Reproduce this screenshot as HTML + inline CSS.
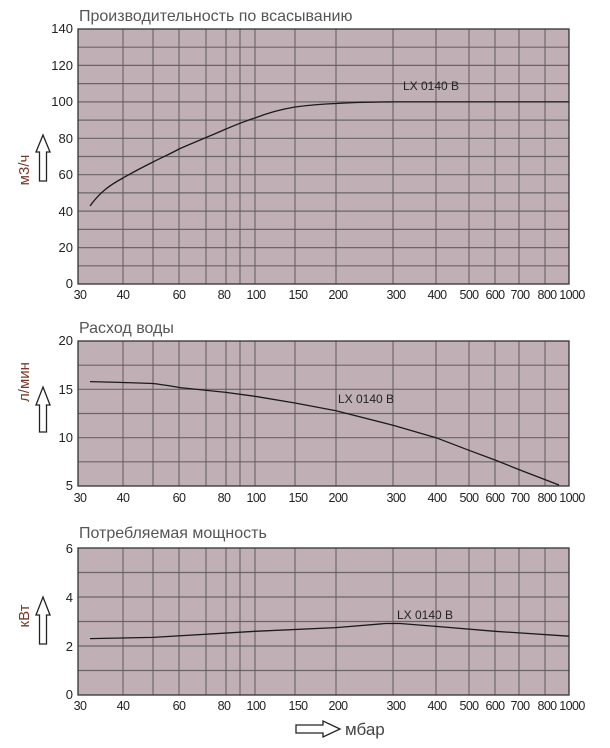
<!DOCTYPE html>
<html><head><meta charset="utf-8"><style>
body{margin:0;background:#fff;}
svg{display:block;font-family:"Liberation Sans",sans-serif;}
</style></head><body>
<svg width="610" height="748" viewBox="0 0 610 748" xmlns="http://www.w3.org/2000/svg">
<defs>
<g id="vgrid" stroke="#5e5a5c" stroke-width="1">
<line x1="123" y1="0" x2="123" y2="1"/><line x1="153" y1="0" x2="153" y2="1"/><line x1="179" y1="0" x2="179" y2="1"/><line x1="206" y1="0" x2="206" y2="1"/><line x1="226" y1="0" x2="226" y2="1"/><line x1="240" y1="0" x2="240" y2="1"/><line x1="255" y1="0" x2="255" y2="1"/><line x1="295" y1="0" x2="295" y2="1"/><line x1="336" y1="0" x2="336" y2="1"/><line x1="393" y1="0" x2="393" y2="1"/><line x1="436" y1="0" x2="436" y2="1"/><line x1="469" y1="0" x2="469" y2="1"/><line x1="495" y1="0" x2="495" y2="1"/><line x1="519" y1="0" x2="519" y2="1"/><line x1="545" y1="0" x2="545" y2="1"/>
</g>
</defs>
<style>
.t{font-size:16px;fill:#555;}
.yl{font-size:13px;fill:#222;text-anchor:end;}
.xl{font-size:12.5px;fill:#222;text-anchor:middle;letter-spacing:-0.6px;}
.lx{font-size:12px;fill:#222;}
.ax{font-size:15px;fill:#7a3a2a;}
.hg{stroke:#6a6568;stroke-width:1.2;}
.cv{fill:none;stroke:#1a1a1a;stroke-width:1.3;}
.arr{fill:#fff;stroke:#222;stroke-width:1.3;}
</style>

<!-- CHART 1 -->
<text x="79" y="21" class="t">Производительность по всасыванию</text>
<rect x="78" y="29" width="491" height="255" fill="#c0b0b6"/>
<g class="hg">
<line x1="78" x2="569" y1="47.2" y2="47.2"/><line x1="78" x2="569" y1="65.4" y2="65.4"/><line x1="78" x2="569" y1="83.6" y2="83.6"/><line x1="78" x2="569" y1="101.9" y2="101.9"/><line x1="78" x2="569" y1="120.1" y2="120.1"/><line x1="78" x2="569" y1="138.3" y2="138.3"/><line x1="78" x2="569" y1="156.5" y2="156.5"/><line x1="78" x2="569" y1="174.7" y2="174.7"/><line x1="78" x2="569" y1="192.9" y2="192.9"/><line x1="78" x2="569" y1="211.1" y2="211.1"/><line x1="78" x2="569" y1="229.4" y2="229.4"/><line x1="78" x2="569" y1="247.6" y2="247.6"/><line x1="78" x2="569" y1="265.8" y2="265.8"/>
</g>
<g transform="translate(0,29) scale(1,255)"><use href="#vgrid"/></g>
<rect x="78" y="29" width="491" height="255" fill="none" stroke="#333" stroke-width="1.3"/>
<g class="yl"><text x="73" y="33">140</text><text x="73" y="70">120</text><text x="73" y="106">100</text><text x="73" y="143">80</text><text x="73" y="179">60</text><text x="73" y="216">40</text><text x="73" y="252">20</text><text x="73" y="288">0</text></g>
<g class="xl"><text x="80" y="299">30</text><text x="123" y="299">40</text><text x="179" y="299">60</text><text x="224" y="299">80</text><text x="256" y="299">100</text><text x="298" y="299">150</text><text x="338" y="299">200</text><text x="396" y="299">300</text><text x="437" y="299">400</text><text x="469" y="299">500</text><text x="495" y="299">600</text><text x="520" y="299">700</text><text x="547" y="299">800</text><text x="572" y="299">1000</text></g>
<path class="cv" d="M90,206 C100,192 110,185 123,178 C135,171 145,166 153,162 C165,156 172,153 179,149 C195,142 210,136 226,129 C238,124 245,121 255,118 C270,112 283,109 295,107 C310,105 322,104 336,103.5 C360,102 380,102 393,101.9 L569,101.9"/>
<text x="403" y="90" class="lx">LX 0140 B</text>
<text transform="translate(29,170) rotate(-90)" class="ax" text-anchor="middle">м3/ч</text>
<path class="arr" d="M43,135 L50,152 L46.5,152 L46.5,181 L39.5,181 L39.5,152 L36,152 Z"/>

<!-- CHART 2 -->
<text x="79" y="333" class="t">Расход воды</text>
<rect x="78" y="341" width="491" height="145" fill="#c0b0b6"/>
<g class="hg">
<line x1="78" x2="569" y1="365.2" y2="365.2"/><line x1="78" x2="569" y1="389.3" y2="389.3"/><line x1="78" x2="569" y1="413.5" y2="413.5"/><line x1="78" x2="569" y1="437.7" y2="437.7"/><line x1="78" x2="569" y1="461.8" y2="461.8"/>
</g>
<g transform="translate(0,341) scale(1,145)"><use href="#vgrid"/></g>
<rect x="78" y="341" width="491" height="145" fill="none" stroke="#333" stroke-width="1.3"/>
<g class="yl"><text x="73" y="345">20</text><text x="73" y="394">15</text><text x="73" y="442">10</text><text x="73" y="490">5</text></g>
<g class="xl"><text x="80" y="502">30</text><text x="123" y="502">40</text><text x="179" y="502">60</text><text x="224" y="502">80</text><text x="256" y="502">100</text><text x="298" y="502">150</text><text x="338" y="502">200</text><text x="396" y="502">300</text><text x="437" y="502">400</text><text x="469" y="502">500</text><text x="495" y="502">600</text><text x="520" y="502">700</text><text x="547" y="502">800</text><text x="572" y="502">1000</text></g>
<path class="cv" d="M90,381.6 L123,382.5 L153,383.5 C165,385 172,386 179,387.5 L226,392.4 L255,396.3 L295,403 L336,410.7 L393,425.2 L436,437.7 L469,450.3 L495,460 L519,469.6 L559,485"/>
<text x="338" y="403" class="lx">LX 0140 B</text>
<text transform="translate(29,382) rotate(-90)" class="ax" text-anchor="middle">л/мин</text>
<path class="arr" d="M43,387 L50,405 L46.5,405 L46.5,432 L39.5,432 L39.5,405 L36,405 Z"/>

<!-- CHART 3 -->
<text x="79" y="538" class="t">Потребляемая мощность</text>
<rect x="78" y="548" width="491" height="147" fill="#c0b0b6"/>
<g class="hg">
<line x1="78" x2="569" y1="572.5" y2="572.5"/><line x1="78" x2="569" y1="597" y2="597"/><line x1="78" x2="569" y1="621.5" y2="621.5"/><line x1="78" x2="569" y1="646" y2="646"/><line x1="78" x2="569" y1="670.5" y2="670.5"/>
</g>
<g transform="translate(0,548) scale(1,147)"><use href="#vgrid"/></g>
<rect x="78" y="548" width="491" height="147" fill="none" stroke="#333" stroke-width="1.3"/>
<g class="yl"><text x="73" y="553">6</text><text x="73" y="602">4</text><text x="73" y="651">2</text><text x="73" y="699">0</text></g>
<g class="xl"><text x="80" y="710">30</text><text x="123" y="710">40</text><text x="179" y="710">60</text><text x="224" y="710">80</text><text x="256" y="710">100</text><text x="298" y="710">150</text><text x="338" y="710">200</text><text x="396" y="710">300</text><text x="437" y="710">400</text><text x="469" y="710">500</text><text x="495" y="710">600</text><text x="520" y="710">700</text><text x="547" y="710">800</text><text x="572" y="710">1000</text></g>
<path class="cv" d="M90,638.6 L153,637.4 L255,631.3 L336,627.6 L386,623.5 L400,623.5 L436,626.4 L495,631.3 L569,636.2"/>
<text x="397" y="619" class="lx">LX 0140 B</text>
<text transform="translate(29,616) rotate(-90)" class="ax" text-anchor="middle">кВт</text>
<path class="arr" d="M43,597 L50,615 L46.5,615 L46.5,644 L39.5,644 L39.5,615 L36,615 Z"/>

<!-- x axis label -->
<path class="arr" d="M296,725 L323,725 L323,721 L340,729 L323,737 L323,733 L296,733 Z"/>
<text x="345" y="735" style="font-size:17px;fill:#444;">мбар</text>
</svg>
</body></html>
